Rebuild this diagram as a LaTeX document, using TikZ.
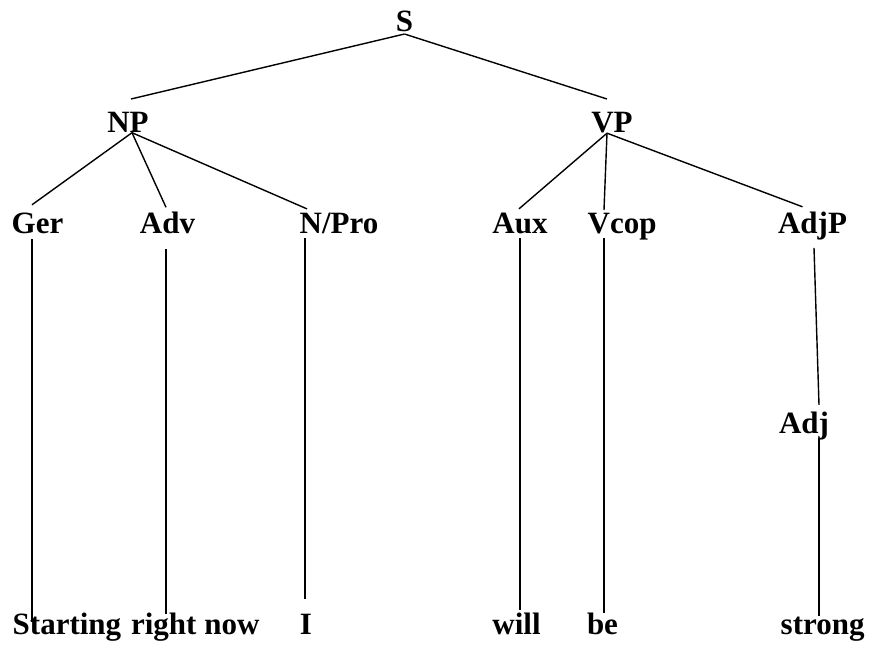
\documentclass[tikz,border=0pt]{standalone}
\usepackage{fontspec}
\setmainfont{Liberation Serif}
\begin{document}
\begin{tikzpicture}[x=1pt,y=-1pt,line join=round,line width=1.4pt,
  lab/.style={font=\fontsize{31}{31}\selectfont\bfseries,inner sep=0pt,anchor=base}]
\useasboundingbox (0,0) rectangle (871,646);
\node[lab] (s) at (404.5,31) {S};
\node[lab] (np) at (128,132) {NP};
\node[lab] (vp) at (612,132) {VP};
\node[lab] (ger) at (37.5,233) {Ger};
\node[lab] (adv) at (167.5,233) {Adv};
\node[lab,anchor=base west] (npro) at (299,233) {N/Pro};
\node[lab] (aux) at (520,233) {Aux};
\node[lab,anchor=base west] (vcop) at (587,233) {Vcop};
\node[lab] (adjp) at (812.5,233) {AdjP};
\node[lab] (adj) at (804,433) {Adj};
\node[lab,anchor=base west] (starting) at (12,634) {Starting};
\node[lab,anchor=base west] (rightnow) at ([xshift=8.5pt]starting.base east) {right now};
\node[lab] (i) at (306,634) {I};
\node[lab] (will) at (516.5,634) {will};
\node[lab] (be) at (602.5,634) {be};
\node[lab,anchor=base west] (strong) at (780,634) {strong};
\draw ([yshift=-2pt]s.south) -- ([xshift=3pt,yshift=12pt]np.north);
\draw ([yshift=-2pt]s.south) -- ([xshift=-5pt,yshift=12pt]vp.north);
\draw ([xshift=4pt]np.south) -- ([xshift=-5.5pt,yshift=7pt]ger.north);
\draw ([xshift=4pt]np.south) -- ([xshift=-1.5pt,yshift=3.5pt]adv.north);
\draw ([xshift=4pt]np.south) -- ([xshift=8pt,yshift=3pt]npro.north west);
\draw ([xshift=-5pt]vp.south) -- ([xshift=-1pt,yshift=3pt]aux.north);
\draw ([xshift=-5pt]vp.south) -- ([xshift=17pt,yshift=2pt]vcop.north west);
\draw ([xshift=-5pt]vp.south) -- ([xshift=-10pt,yshift=4pt]adjp.north);
\draw ([xshift=-5.5pt,yshift=-5pt]ger.south) -- ([xshift=-5.5pt,yshift=-10pt]ger.south |- starting.north);
\draw ([xshift=-1.5pt,yshift=-15pt]adv.south) -- ([xshift=-1.5pt,yshift=-2pt]adv.south |- rightnow.north);
\draw ([xshift=6pt,yshift=-4pt]npro.south west) -- ([xshift=6pt,yshift=14pt]npro.south west |- i.north);
\draw ([yshift=-4pt]aux.south) -- ([yshift=2pt]aux.south |- will.north);
\draw ([xshift=17pt,yshift=2pt]vcop.south west) -- ([xshift=17pt,yshift=-1pt]vcop.south west |- be.north);
\draw ([xshift=1.5pt,yshift=-7.5pt]adjp.south) -- ([xshift=15pt,yshift=6pt]adj.north);
\draw ([xshift=15pt,yshift=2.5pt]adj.south) -- ([xshift=15pt]adj.south |- strong.north);
\end{tikzpicture}
\end{document}
